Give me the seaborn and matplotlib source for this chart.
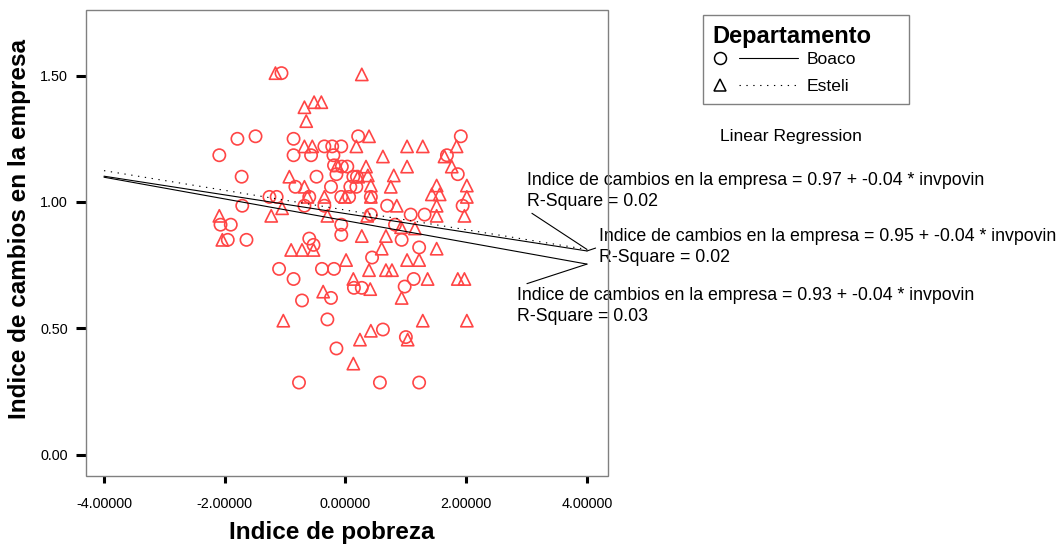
import numpy as np
import pandas as pd
import matplotlib
matplotlib.use('Agg')
import matplotlib.pyplot as plt
import seaborn as sns
from matplotlib.lines import Line2D
from matplotlib.patches import Rectangle
from matplotlib.legend_handler import HandlerBase
from matplotlib.ticker import FormatStrFormatter

# Indice de pobreza (x) / Indice de cambios en la empresa (y)
boaco_x = [-1.06, -1.79, -1.49, -0.86, -2.09, -0.86, -0.57, -0.35, -0.22, -0.07,
           -0.20, -1.72, -0.48, -0.83, -0.24, -0.19, -0.15, -1.26, -1.14, -0.60,
           -0.07, -1.71, -0.68, -0.35, -2.07, -1.90, -0.07, 0.21, 1.68, 1.91,
           -0.06, 0.03, 0.13, 0.19, 1.86, 0.08, 0.18, 0.06, 0.69, 1.94,
           1.08, 1.31, 0.42, 0.42, 0.82, -1.95, -1.64, -0.60, -0.53, -0.07,
           -1.10, -0.86, -0.39, -0.19, -0.24, -0.72, -0.30, -0.15, -0.77, 0.93,
           1.22, 0.44, 1.13, 0.14, 0.27, 0.98, 0.62, 1.00, 0.57, 1.22]
boaco_y = [1.51, 1.25, 1.26, 1.25, 1.185, 1.185, 1.185, 1.22, 1.22, 1.22,
           1.185, 1.10, 1.10, 1.06, 1.06, 1.145, 1.11, 1.02, 1.02, 1.02,
           1.02, 0.985, 0.985, 0.985, 0.91, 0.91, 0.91, 1.26, 1.185, 1.26,
           1.14, 1.14, 1.10, 1.10, 1.11, 1.06, 1.06, 1.02, 0.985, 0.985,
           0.95, 0.95, 0.95, 1.02, 0.91, 0.85, 0.85, 0.855, 0.83, 0.87,
           0.735, 0.695, 0.735, 0.735, 0.62, 0.61, 0.535, 0.42, 0.285, 0.85,
           0.82, 0.78, 0.695, 0.66, 0.66, 0.665, 0.495, 0.465, 0.285, 0.285]

esteli_x = [-1.16, 0.27, -0.68, -0.52, -0.40, -0.65, -0.68, -0.55, -0.93, -0.68,
            -0.14, -0.63, -0.35, -1.05, -1.23, -0.30, -2.09, 0.39, 0.18, 1.02,
            1.28, 0.62, 1.64, 1.84, 1.02, 0.34, 0.21, 0.37, 0.80, 1.76,
            0.42, 0.75, 1.51, 2.01, -0.01, 0.42, 1.43, 1.56, 2.01, 0.85,
            1.51, 1.51, 1.97, 0.36, 0.92, 1.15, -2.04, -0.90, -0.72, -0.53,
            -0.37, -1.03, 0.27, 0.67, 0.60, 1.51, 0.01, 1.02, 1.22, 0.39,
            0.67, 0.77, 1.36, 1.86, 1.97, 0.13, 0.41, 0.93, 1.28, 2.01,
            0.42, 0.24, 1.03, 0.13]
esteli_y = [1.51, 1.505, 1.375, 1.395, 1.395, 1.32, 1.22, 1.22, 1.10, 1.06,
            1.145, 1.02, 1.02, 0.975, 0.945, 0.945, 0.945, 1.26, 1.22, 1.22,
            1.22, 1.18, 1.18, 1.22, 1.14, 1.14, 1.10, 1.105, 1.105, 1.14,
            1.065, 1.06, 1.065, 1.065, 1.02, 1.02, 1.03, 1.03, 1.02, 0.985,
            0.985, 0.945, 0.945, 0.945, 0.90, 0.895, 0.85, 0.81, 0.81, 0.81,
            0.645, 0.53, 0.865, 0.865, 0.815, 0.815, 0.77, 0.77, 0.77, 0.73,
            0.73, 0.73, 0.695, 0.695, 0.695, 0.695, 0.655, 0.62, 0.53, 0.53,
            0.49, 0.455, 0.455, 0.36]

# linear fits: Esteli, total, Boaco
fit_styles = [(0, (1.2, 5)), '-', '-']
fit_b0 = [0.968, 0.954, 0.926]
fit_b1 = [-0.039, -0.037, -0.043]
fit_r2 = [0.02, 0.02, 0.03]
fit_range = [-4.0, 4.0]

sns.set_style('white')
plt.rcParams['font.family'] = ['Liberation Sans', 'DejaVu Sans']
plt.rcParams['axes.unicode_minus'] = False
plt.rcParams.update({'text.color': 'black', 'axes.labelcolor': 'black',
                     'xtick.color': 'black', 'ytick.color': 'black'})

red = '#ff4545'

df = pd.DataFrame({
    'pobreza': boaco_x + esteli_x,
    'cambios': boaco_y + esteli_y,
    'Departamento': ['Boaco'] * len(boaco_x) + ['Esteli'] * len(esteli_x),
})

fig = plt.figure(figsize=(10.6, 5.44), dpi=100)
ax = fig.add_axes([86 / 1060, 68 / 544, 522 / 1060, 466 / 544])

sns.scatterplot(df, x='pobreza', y='cambios', style='Departamento',
                markers={'Boaco': 'o', 'Esteli': '^'}, s=78,
                color=red, facecolor='none', edgecolor=red, linewidth=1.2,
                legend=False, ax=ax, zorder=2)

xs = np.array(fit_range)
for b0, b1, ls in zip(fit_b0, fit_b1, fit_styles):
    sns.lineplot(x=xs, y=b0 + b1 * xs, color='black', linewidth=0.8,
                 linestyle=ls, ax=ax, zorder=3)

# fit labels with leader lines
label_pos = [(3.005, 1.0436, (0, 0)), (4.197, 0.8218, (0, 0.5)), (2.839, 0.588, (0, 1))]
for b0, b1, r2, (tx, ty, rp) in zip(fit_b0, fit_b1, fit_r2, label_pos):
    txt = f'Indice de cambios en la empresa = {b0:.2f} + {b1:.2f} * invpovin\nR-Square = {r2:.2f}'
    ax.annotate(txt, xy=(4.0, b0 + b1 * 4.0), xytext=(tx, ty), textcoords='data',
                ha='left', va='center', fontsize=12.8, linespacing=1.32,
                annotation_clip=False,
                arrowprops=dict(arrowstyle='-', color='black', lw=0.8,
                                shrinkA=0, shrinkB=0, relpos=rp))

ax.set_xlim(-4.298, 4.348)
ax.set_ylim(-0.085, 1.76)
ax.set_xticks([-4, -2, 0, 2, 4])
ax.set_yticks([0.0, 0.5, 1.0, 1.5])
ax.xaxis.set_major_formatter(FormatStrFormatter('%.5f'))
ax.yaxis.set_major_formatter(FormatStrFormatter('%.2f'))

for sp in ax.spines.values():
    sp.set_visible(False)
ax.add_patch(Rectangle((0, 0), 1, 1, transform=ax.transAxes, fill=False,
                       ec='#808080', lw=1.0, clip_on=False, zorder=5))
ax.tick_params(axis='x', direction='out', length=5, width=2.2, color='black',
               pad=10, labelsize=10.4, bottom=True)
ax.tick_params(axis='y', direction='out', length=7, width=2.2, color='black',
               pad=6, labelsize=10.4, left=True)

ax.set_xlabel('Indice de pobreza', fontsize=17.5, fontweight='bold', va='center')
ax.set_ylabel('Indice de cambios en la empresa', fontsize=17.5, fontweight='bold', va='center')
ax.xaxis.set_label_coords((332 - 86) / 522, -(532 - 476) / 466)
ax.yaxis.set_label_coords(-(86 - 20) / 522, (476 - 229) / 466)


class Key:
    def __init__(self, marker, ls):
        self.marker = marker
        self.ls = ls


class MarkerThenLine(HandlerBase):
    def create_artists(self, legend, orig_handle, xdescent, ydescent,
                       width, height, fontsize, trans):
        yc = height / 2 - ydescent
        x0 = -xdescent
        dot = Line2D([x0 + 5], [yc], marker=orig_handle.marker, ms=8.6,
                     mfc='none', mec='black', mew=1.1, ls='none', transform=trans)
        seg = Line2D([x0 + 18.7, x0 + width], [yc, yc], color='black', lw=0.8,
                     ls=orig_handle.ls, transform=trans)
        return [dot, seg]


keys = [Key('o', '-'), Key('^', (0, (1.2, 5)))]
leg = fig.legend(keys, ['Boaco', 'Esteli'], title='Departamento',
                 handler_map={Key: MarkerThenLine()},
                 loc='upper left', bbox_to_anchor=(703 / 1060, 1 - 104 / 544, 206 / 1060, 89 / 544),
                 mode='expand', borderaxespad=0, borderpad=0.55, fontsize=12.6,
                 handlelength=4.85, handletextpad=0.5, labelspacing=0.65,
                 alignment='left', fancybox=False, framealpha=1, edgecolor='#808080',
                 title_fontproperties={'weight': 'bold', 'size': 17})
leg.get_frame().set_linewidth(1.0)
leg._legend_box.sep = 3.3  # tighter gap under the title

fig.text(720 / 1060, 1 - 137 / 544, 'Linear Regression', fontsize=12.6,
         ha='left', va='center')

fig.savefig('out.png', dpi=100)
